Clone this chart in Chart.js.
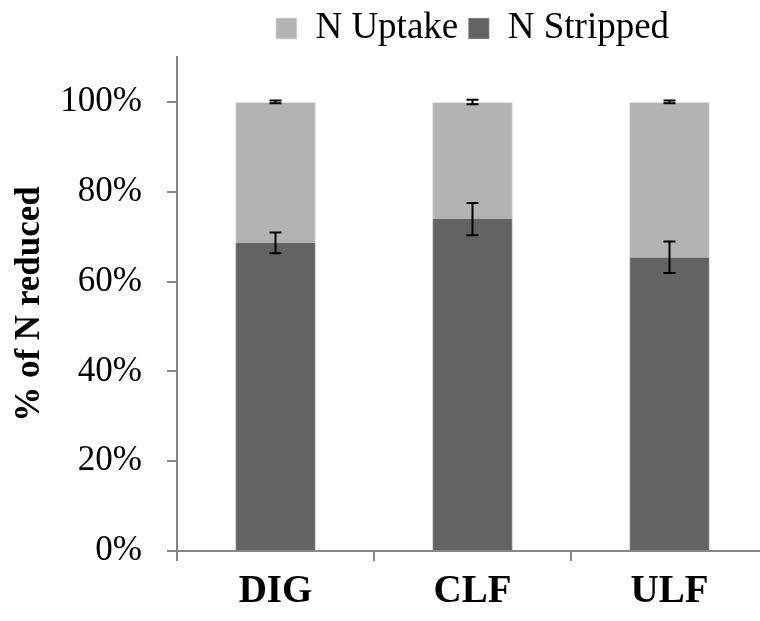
<!DOCTYPE html>
<html>
<head>
<meta charset="utf-8">
<script src="https://cdn.jsdelivr.net/npm/chart.js@4"></script>
<style>
  html, body { margin: 0; padding: 0; background: #fff; overflow: hidden; }
  #wrap { width: 760px; height: 621px; overflow: hidden; }
  canvas { display: block; }
</style>
</head>
<body>
<div id="wrap"><canvas id="chart" width="780" height="621"></canvas></div>
<script>
// Data (percent of N reduced)
const categories   = ['DIG', 'CLF', 'ULF'];
const nStripped    = [68.6, 73.9, 65.4];
const nUptake      = [31.4, 26.1, 34.6];
const strippedErr  = [2.3, 3.6, 3.5];
const uptakeErr    = [0.3, 0.5, 0.3];
const yTicks       = [0, 20, 40, 60, 80, 100];

const FONT = "'Liberation Serif', 'Times New Roman', serif";
const AXIS_GREY = '#878787';

// Error bars drawn on top of each stack segment
const errorBars = {
  id: 'errorBars',
  afterDatasetsDraw(chart) {
    const ctx = chart.ctx;
    const y = chart.scales.y;
    const sets = [
      { meta: chart.getDatasetMeta(0), err: strippedErr, top: (i) => nStripped[i] },
      { meta: chart.getDatasetMeta(1), err: uptakeErr, top: (i) => nStripped[i] + nUptake[i] },
    ];
    ctx.save();
    ctx.strokeStyle = '#000';
    ctx.lineWidth = 2;
    sets.forEach(s => {
      s.meta.data.forEach((bar, i) => {
        const v = s.top(i);
        const yHi = y.getPixelForValue(v + s.err[i]);
        const yLo = y.getPixelForValue(v - s.err[i]);
        const x = bar.x;
        ctx.beginPath();
        ctx.moveTo(x, yHi); ctx.lineTo(x, yLo);
        ctx.moveTo(x - 6, yHi); ctx.lineTo(x + 6, yHi);
        ctx.moveTo(x - 6, yLo); ctx.lineTo(x + 6, yLo);
        ctx.stroke();
      });
    });
    ctx.restore();
  }
};

new Chart(document.getElementById('chart'), {
  type: 'bar',
  data: {
    labels: categories,
    datasets: [
      { label: 'N Stripped', data: nStripped, backgroundColor: '#636363',
        borderColor: '#d0d0d0', borderWidth: { left: 1, right: 1 }, borderSkipped: false,
        barPercentage: 0.41, categoryPercentage: 1 },
      { label: 'N Uptake', data: nUptake, backgroundColor: '#b3b3b3',
        borderColor: '#e3e3e3', borderWidth: { left: 1, right: 1, top: 1 }, borderSkipped: false,
        barPercentage: 0.41, categoryPercentage: 1 },
    ]
  },
  options: {
    responsive: false,
    animation: false,
    devicePixelRatio: 1,
    layout: { padding: { left: 0, right: 12, top: 0, bottom: 0 } },
    plugins: {
      legend: {
        position: 'top',
        fullSize: false,
        reverse: true,
        labels: {
          color: '#000',
          font: { family: FONT, size: 37 },
          boxWidth: 21, boxHeight: 21,
          padding: 10,
        }
      },
      tooltip: { enabled: false },
    },
    scales: {
      x: {
        stacked: true,
        afterFit: (s) => { s.height = 70; },
        border: { color: AXIS_GREY, width: 2 },
        grid: { offset: true, drawOnChartArea: false, color: AXIS_GREY, lineWidth: 2, tickLength: 10 },
        ticks: { color: '#000', padding: 8, font: { family: FONT, size: 39, weight: 'bold' } },
      },
      y: {
        stacked: true,
        min: 0, max: 110,
        afterFit: (s) => { s.width = 177; },
        afterBuildTicks: (s) => { s.ticks = yTicks.map(v => ({ value: v })); },
        border: { color: AXIS_GREY, width: 2 },
        grid: { drawOnChartArea: false, color: AXIS_GREY, lineWidth: 2, tickLength: 10 },
        ticks: {
          color: '#000', padding: 25,
          font: { family: FONT, size: 35 },
          callback: (v) => v + '%',
        },
        title: {
          display: true, text: '% of N reduced', color: '#000',
          padding: { top: 9, bottom: 0 },
          font: { family: FONT, size: 35, weight: 'bold' },
        }
      }
    }
  },
  plugins: [errorBars]
});
</script>
</body>
</html>
